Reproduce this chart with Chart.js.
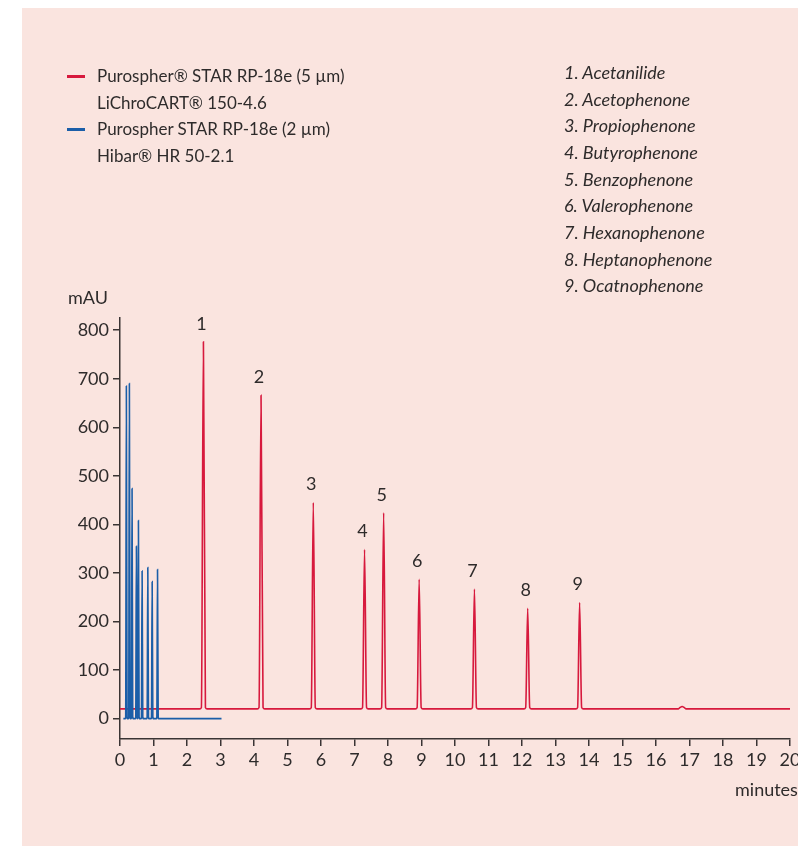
<!DOCTYPE html>
<html>
<head>
<meta charset="utf-8">
<script src="https://cdn.jsdelivr.net/npm/chart.js@4/dist/chart.umd.min.js"></script>
<style>
  html, body { margin: 0; padding: 0; background: #ffffff; }
  #page { position: relative; width: 798px; height: 846px; overflow: hidden; }
  #panel { position: absolute; left: 22px; top: 8px; width: 776px; height: 838px; background: #fae4df; }
  #chartWrap { position: absolute; left: 0; top: 0; width: 798px; height: 846px; }
  .legend { position: absolute; left: 66px; top: 63px; font: 17px Lato, sans-serif; color: #2e2b2b; line-height: 26.7px; }
  .legend .row { position: relative; padding-left: 31px; white-space: nowrap; }
  .legend .swatch { position: absolute; left: 1px; top: 12px; width: 18px; height: 2.5px; }
  .compounds { position: absolute; left: 564px; top: 59px; font: italic 18px Lato, sans-serif; color: #2e2b2b; line-height: 26.65px; white-space: nowrap; }
</style>
</head>
<body>
<div id="page">
  <div id="panel"></div>
  <div id="chartWrap"><canvas id="chromChart" width="798" height="846"></canvas></div>
  <div class="legend" id="legend"></div>
  <div class="compounds" id="compounds"></div>
</div>

<script>
"use strict";

// Column 1 (red trace): retention times (min) and peak heights (mAU)
const redTimes   = [2.49, 4.21, 5.77, 7.30, 7.87, 8.93, 10.58, 12.17, 13.72];
const redHeights = [776, 666, 445, 348, 424, 287, 267, 227, 239];
const redBaseline = 20;
const redMinorTimes   = [16.78];
const redMinorHeights = [25];
const redRange = [0, 20];

// Column 2 (blue trace)
const blueTimes   = [0.19, 0.28, 0.36, 0.49, 0.55, 0.66, 0.83, 0.96, 1.12];
const blueHeights = [685, 690, 474, 355, 408, 304, 311, 282, 307];
const blueBaseline = 0;
const blueRange = [0.1, 3.03];

const peakLabels = ["1", "2", "3", "4", "5", "6", "7", "8", "9"];

const compounds = [
  "1. Acetanilide", "2. Acetophenone", "3. Propiophenone",
  "4. Butyrophenone", "5. Benzophenone", "6. Valerophenone",
  "7. Hexanophenone", "8. Heptanophenone", "9. Ocatnophenone"
];

const legendItems = [
  { color: "#d7193d", lines: ["Purospher® STAR RP-18e (5 µm)", "LiChroCART® 150-4.6"] },
  { color: "#1b5ea8", lines: ["Purospher STAR RP-18e (2 µm)", "Hibar® HR 50-2.1"] }
];

const yTicks = [0, 100, 200, 300, 400, 500, 600, 700, 800];
const xTicks = [0, 1, 2, 3, 4, 5, 6, 7, 8, 9, 10, 11, 12, 13, 14, 15, 16, 17, 18, 19, 20];

const RED = "#d7193d";
const BLUE = "#1b5ea8";
const TEXT = "#2e2b2b";

// build a trace: flat baseline with a narrow peak at each retention time
function buildTrace(range, base, times, heights, halfWidth, footWidth) {
  const peaks = times.map((t, i) => ({ t, h: heights[i] }))
    .sort((a, b) => a.t - b.t);
  const pts = [{ x: range[0], y: base }];
  peaks.forEach(p => {
    pts.push({ x: p.t - footWidth, y: base });
    pts.push({ x: p.t - halfWidth, y: base + 3 });
    pts.push({ x: p.t, y: p.h });
    pts.push({ x: p.t + halfWidth, y: base + 3 });
    pts.push({ x: p.t + footWidth, y: base });
  });
  pts.push({ x: range[1], y: base });
  return pts;
}

const redData = buildTrace(
  redRange, redBaseline,
  redTimes.concat(redMinorTimes), redHeights.concat(redMinorHeights),
  0.06, 0.11
);
const blueData = buildTrace(blueRange, blueBaseline, blueTimes, blueHeights, 0.02, 0.029);

// legend + compound list
document.getElementById("legend").innerHTML = legendItems.map(item =>
  item.lines.map((ln, i) => `
    <div class="row">${i === 0 ? `<span class="swatch" style="background:${item.color}"></span>` : ""}${ln}</div>
  `).join("")
).join("");

document.getElementById("compounds").innerHTML =
  compounds.map(c => `<div>${c}</div>`).join("");

// peak numbers and axis captions
const annotations = {
  id: "annotations",
  afterDatasetsDraw(chart) {
    const { ctx, chartArea, scales } = chart;
    ctx.save();
    ctx.fillStyle = TEXT;
    ctx.font = "18px Lato, sans-serif";
    ctx.textAlign = "center";
    ctx.textBaseline = "middle";
    redTimes.forEach((t, i) => {
      const x = scales.x.getPixelForValue(t);
      const y = scales.y.getPixelForValue(redHeights[i]);
      ctx.fillText(peakLabels[i], x - 2, y - 18);
    });
    ctx.textAlign = "left";
    ctx.fillText("mAU", chartArea.left - 52, chartArea.top - 20);
    ctx.fillText("minutes", chartArea.right - 55, chartArea.bottom + 51);
    ctx.restore();
  }
};

const axisStyle = {
  border: { display: true, color: "#3a3434", width: 1.5 },
  grid: { display: true, drawOnChartArea: false, drawTicks: true, tickLength: 7, color: "#3a3434", lineWidth: 1.5 },
};

new Chart(document.getElementById("chromChart").getContext("2d"), {
  type: "line",
  data: {
    datasets: [
      {
        label: "Purospher STAR RP-18e (2 µm)",
        data: blueData,
        borderColor: BLUE,
        borderWidth: 1.6,
        pointRadius: 0,
        cubicInterpolationMode: "monotone"
      },
      {
        label: "Purospher® STAR RP-18e (5 µm)",
        data: redData,
        borderColor: RED,
        borderWidth: 1.6,
        pointRadius: 0,
        cubicInterpolationMode: "monotone"
      }
    ]
  },
  options: {
    responsive: false,
    animation: false,
    layout: { padding: { left: 0, right: 8, top: 318, bottom: 67 } },
    plugins: {
      legend: { display: false },
      tooltip: { enabled: false }
    },
    scales: {
      x: {
        type: "linear",
        min: 0,
        max: 20,
        ...axisStyle,
        afterBuildTicks: s => { s.ticks = xTicks.map(v => ({ value: v })); },
        afterFit: s => { s.height = 40; s.paddingLeft = 0; s.paddingRight = 0; },
        ticks: {
          autoSkip: false,
          maxRotation: 0,
          padding: 3,
          color: TEXT,
          font: { family: "Lato", size: 18 }
        }
      },
      y: {
        type: "linear",
        min: -42,
        max: 825,
        ...axisStyle,
        afterBuildTicks: s => { s.ticks = yTicks.map(v => ({ value: v })); },
        afterFit: s => { s.width = 120; },
        ticks: {
          padding: 4,
          color: TEXT,
          font: { family: "Lato", size: 18 }
        }
      }
    }
  },
  plugins: [annotations]
});
</script>
</body>
</html>
